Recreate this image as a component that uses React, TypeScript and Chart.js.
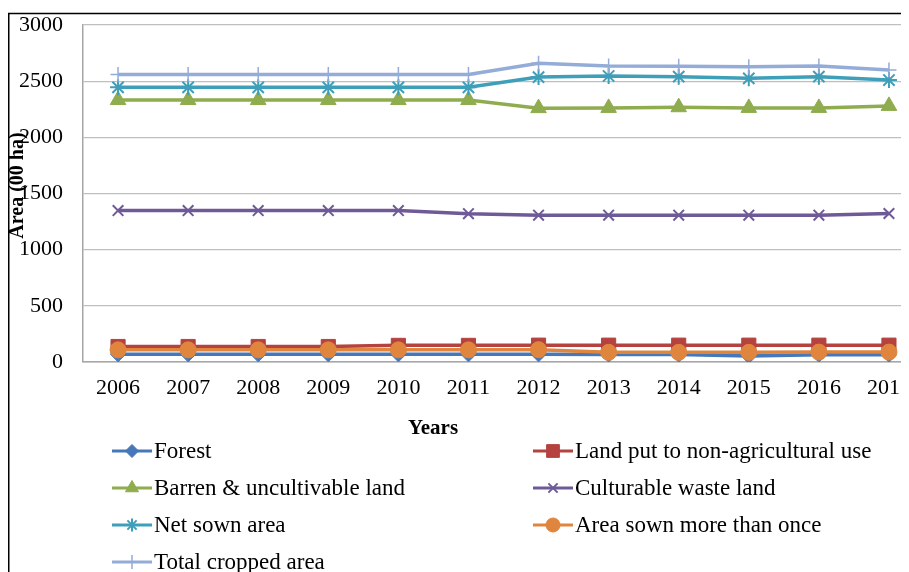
import React, { useEffect, useRef } from 'react';
import { Chart, registerables } from 'chart.js';
import { drawPoint } from 'chart.js/helpers';

Chart.register(...registerables);

const years = ['2006', '2007', '2008', '2009', '2010', '2011', '2012', '2013', '2014', '2015', '2016', '2017'];
const seriesNames = [
  'Forest',
  'Land put to non-agricultural use',
  'Barren & uncultivable land',
  'Culturable waste land',
  'Net sown area',
  'Area sown more than once',
  'Total cropped area',
];
const forest = [68, 68, 68, 68, 68, 68, 68, 66, 66, 53, 65, 65];
const nonAgri = [138, 138, 138, 138, 148, 148, 150, 150, 150, 150, 150, 150];
const barren = [2332, 2332, 2332, 2332, 2332, 2332, 2260, 2262, 2268, 2262, 2262, 2280];
const culturable = [1348, 1348, 1348, 1348, 1348, 1320, 1307, 1307, 1307, 1307, 1307, 1322];
const netSown = [2445, 2445, 2445, 2445, 2445, 2445, 2536, 2546, 2540, 2525, 2540, 2510];
const sownMore = [108, 108, 108, 108, 108, 108, 110, 86, 86, 86, 88, 88];
const totalCropped = [2560, 2560, 2560, 2560, 2560, 2560, 2660, 2635, 2632, 2628, 2635, 2600];
const yTicks = { min: 0, max: 3000, step: 500 };
const xTitle = 'Years';
const yTitle = 'Area (00 ha)';

const FONT = '"Liberation Serif", "Times New Roman", Times, serif';

const styles = [
  { color: '#4677b8', pointStyle: 'rectRot', radius: 7.5, pbw: 1, legendRadius: 6.5 },
  { color: '#b5423e', pointStyle: 'rect', radius: 10, pbw: 1, legendRadius: 9 },
  { color: '#8fac4e', pointStyle: 'triangle', radius: 9, pbw: 1, legendRadius: 7.5 },
  { color: '#6f5a98', pointStyle: 'crossRot', radius: 7.5, pbw: 2, legendRadius: 6.5 },
  { color: '#3f9fb9', pointStyle: 'star', radius: 8, pbw: 2, legendRadius: 6.5 },
  { color: '#e0853d', pointStyle: 'circle', radius: 8, pbw: 1, legendRadius: 7 },
  { color: '#93acd8', pointStyle: 'cross', radius: 7.5, pbw: 1.5, legendRadius: 7 },
];
const seriesData = [forest, nonAgri, barren, culturable, netSown, sownMore, totalCropped];

const decorPlugin = {
  id: 'decor',
  beforeDraw(chart: any) {
    const ctx = chart.ctx;
    ctx.save();
    ctx.fillStyle = '#ffffff';
    ctx.fillRect(0, 0, chart.width, chart.height);
    ctx.strokeStyle = '#000000';
    ctx.lineWidth = 1.5;
    ctx.beginPath();
    ctx.moveTo(0.75, chart.height);
    ctx.lineTo(0.75, 5.5);
    ctx.lineTo(chart.width, 5.5);
    ctx.stroke();
    ctx.restore();
  },
  afterDraw(chart: any) {
    const ctx = chart.ctx;
    const area = chart.chartArea;
    ctx.save();
    // axis titles
    ctx.fillStyle = '#000';
    ctx.font = `bold 21px ${FONT}`;
    ctx.textAlign = 'center';
    ctx.textBaseline = 'middle';
    ctx.fillText(xTitle, 425, 421);
    ctx.save();
    ctx.translate(10, (area.top + area.bottom) / 2 - 8);
    ctx.rotate(-Math.PI / 2);
    ctx.font = `bold 20px ${FONT}`;
    ctx.fillText(yTitle, 0, 0);
    ctx.restore();

    // legend, two columns
    const colX = [104, 525];
    const rowY = [443, 480, 517, 554];
    chart.data.datasets.forEach((ds: any, i: number) => {
      const st = styles[i];
      const x0 = colX[i % 2];
      const y = rowY[Math.floor(i / 2)];
      ctx.strokeStyle = ds.borderColor;
      ctx.lineWidth = 3;
      ctx.beginPath();
      ctx.moveTo(x0, y);
      ctx.lineTo(x0 + 40, y);
      ctx.stroke();
      ctx.fillStyle = ds.borderColor;
      ctx.strokeStyle = ds.borderColor;
      ctx.lineWidth = st.pbw;
      drawPoint(ctx, { pointStyle: st.pointStyle, rotation: 0, radius: st.legendRadius, borderWidth: st.pbw } as any, x0 + 20, y);
      ctx.fillStyle = '#000';
      ctx.font = `23px ${FONT}`;
      ctx.textAlign = 'left';
      ctx.textBaseline = 'middle';
      ctx.fillText(ds.label, x0 + 42, y + 1);
    });
    ctx.restore();
  },
};

export default function App() {
  const ref = useRef<HTMLCanvasElement>(null);
  useEffect(() => {
    if (!ref.current) return;
    const datasets = seriesData.map((d, i) => ({
      label: seriesNames[i],
      data: d,
      borderColor: styles[i].color,
      backgroundColor: styles[i].color,
      pointBackgroundColor: styles[i].color,
      pointBorderColor: styles[i].color,
      pointStyle: styles[i].pointStyle as any,
      pointRadius: styles[i].radius,
      pointBorderWidth: styles[i].pbw,
      borderWidth: 3.5,
      tension: 0,
      fill: false,
      order: 6 - i,
    }));
    const chart = new Chart(ref.current, {
      type: 'line',
      data: { labels: years, datasets },
      options: {
        responsive: false,
        animation: false,
        devicePixelRatio: 1,
        layout: { padding: { top: 17, right: 14, bottom: 206, left: 0 } },
        plugins: {
          legend: { display: false },
          tooltip: { enabled: false },
          title: { display: false },
        },
        scales: {
          x: {
            offset: true,
            grid: { display: false, drawTicks: false },
            border: { display: true, color: '#a6a6a6', width: 1.5 },
            ticks: {
              font: { family: FONT, size: 22 },
              color: '#000',
              padding: 13,
              maxRotation: 0,
              autoSkip: false,
            },
            afterFit: (s: any) => {
              s.height = 40;
              s.paddingLeft = 0;
              s.paddingRight = 0;
            },
          },
          y: {
            min: yTicks.min,
            max: yTicks.max,
            ticks: {
              stepSize: yTicks.step,
              font: { family: FONT, size: 22 },
              color: '#000',
              padding: 20,
              callback: (v: any) => String(v),
            },
            grid: { color: '#bfbfbf', drawTicks: false, lineWidth: 1.2 },
            border: { display: true, color: '#a6a6a6', width: 1.5 },
            afterFit: (s: any) => {
              s.width = 75;
              s.paddingTop = 0;
              s.paddingBottom = 0;
            },
          },
        },
      },
      plugins: [decorPlugin],
    });
    return () => chart.destroy();
  }, []);
  return (
    <div style={{ width: 901, height: 564, overflow: 'hidden', position: 'relative' }}>
      <canvas ref={ref} width={930} height={600} style={{ display: 'block', width: 930, height: 600 }} />
    </div>
  );
}
